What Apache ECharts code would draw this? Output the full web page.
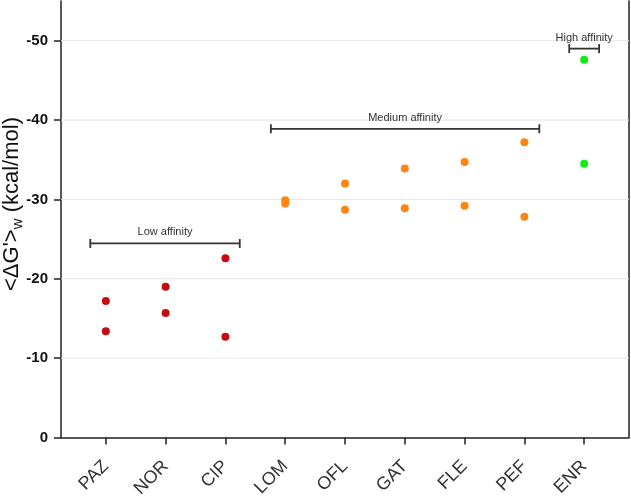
<!DOCTYPE html>
<html>
<head>
<meta charset="utf-8">
<script src="https://cdn.jsdelivr.net/npm/echarts@6/dist/echarts.min.js"></script>
<style>html,body{margin:0;padding:0;background:#fff}#c{width:631px;height:496px}</style>
</head>
<body>
<div id="c"></div>
<script>
var categories = ['PAZ','NOR','CIP','LOM','OFL','GAT','FLE','PEF','ENR'];
var lowIdx = [0,0,1,1,2,2];
var lowVals = [-17.2,-13.4,-19.0,-15.7,-22.6,-12.7];
var medIdx = [3,3,4,4,5,5,6,6,7,7];
var medVals = [-29.9,-29.5,-32.0,-28.7,-33.9,-28.9,-34.7,-29.2,-37.2,-27.8];
var highIdx = [8,8];
var highVals = [-47.6,-34.5];
var yTicks = [0,-10,-20,-30,-40,-50];
var bracketStart = [-0.26, 2.76, 7.75];
var bracketEnd = [2.24, 7.25, 8.25];
var bracketLevel = [-24.45, -38.9, -49.0];
var bracketLabel = ['Low affinity','Medium affinity','High affinity'];
var yTitle = '{a|<ΔG\'>}{b|w}{a| (kcal/mol)}';

function pairs(xs, ys){ return xs.map(function(x,i){return [x, ys[i]];}); }

var chart = echarts.init(document.getElementById('c'), null, {renderer:'canvas'});
var option = {
  animation:false,
  backgroundColor:'#fff',
  grid:{left:61, right:2, top:1, bottom:58.5, containLabel:false, outerBoundsMode:'none'},
  graphic:[{
    type:'text', x:12, y:204, rotation:Math.PI/2,
    style:{
      text:yTitle, align:'center', verticalAlign:'middle',
      rich:{
        a:{fontSize:22, fontFamily:'Liberation Sans, Arial, sans-serif', fill:'#111', height:26},
        b:{fontSize:15, fontFamily:'Liberation Sans, Arial, sans-serif', fill:'#111', verticalAlign:'bottom', padding:[11,0,0,0], height:26}
      }
    }
  }],
  xAxis:{
    type:'value', min:-0.75, max:8.75,
    axisLine:{show:true, onZero:false, lineStyle:{color:'#222', width:1.5}},
    axisTick:{show:true, customValues:[0,1,2,3,4,5,6,7,8], length:7, lineStyle:{color:'#222', width:1.5}},
    axisLabel:{customValues:[0,1,2,3,4,5,6,7,8], rotate:45, margin:26, fontSize:18,
      fontFamily:'Liberation Sans, Arial, sans-serif', color:'#333',
      formatter:function(v){ return categories[Math.round(v)] || ''; }},
    splitLine:{show:false}
  },
  yAxis:[{
    type:'value', min:-55, max:0, inverse:true,
    axisLine:{show:true, onZero:false, lineStyle:{color:'#222', width:1.5}},
    axisTick:{show:true, customValues:yTicks, length:7, lineStyle:{color:'#222', width:1.5}},
    axisLabel:{customValues:yTicks, margin:13, fontSize:15, fontWeight:'bold',
      fontFamily:'Liberation Sans, Arial, sans-serif', color:'#111'},
    splitLine:{show:false}
  },{
    type:'value', min:-55, max:0, inverse:true, position:'right',
    axisLine:{show:true, onZero:false, lineStyle:{color:'#222', width:1.5}},
    axisTick:{show:false}, axisLabel:{show:false}, splitLine:{show:false}
  }],
  series:[
    {
      type:'custom', yAxisIndex:0, silent:true, z:1,
      data: yTicks.filter(function(v){return v!==0;}).map(function(v){return [v];}),
      renderItem:function(params, api){
        var v = api.value(0);
        var p1 = api.coord([-0.75, v]);
        var p2 = api.coord([8.75, v]);
        return {type:'line', shape:{x1:p1[0], y1:p1[1], x2:p2[0], y2:p2[1]},
          style:{stroke:'#e6e6e6', lineWidth:1}};
      }
    },
    {type:'scatter', data:pairs(lowIdx, lowVals), symbolSize:8, itemStyle:{color:'#c40d12', opacity:1}, z:3},
    {type:'scatter', data:pairs(medIdx, medVals), symbolSize:8, itemStyle:{color:'#ff8410', opacity:1}, z:3},
    {type:'scatter', data:pairs(highIdx, highVals), symbolSize:8, itemStyle:{color:'#10ee10', opacity:1}, z:3},
    {
      type:'custom', silent:true, z:4,
      data: bracketStart.map(function(s,i){ return [s, bracketEnd[i], bracketLevel[i], i]; }),
      renderItem:function(params, api){
        var a = api.coord([api.value(0), api.value(2)]);
        var b = api.coord([api.value(1), api.value(2)]);
        var idx = api.value(3);
        var st = {stroke:'#333', lineWidth:1.8};
        return {type:'group', children:[
          {type:'line', shape:{x1:a[0], y1:a[1], x2:b[0], y2:b[1]}, style:st},
          {type:'line', shape:{x1:a[0], y1:a[1]-4.5, x2:a[0], y2:a[1]+4.5}, style:st},
          {type:'line', shape:{x1:b[0], y1:b[1]-4.5, x2:b[0], y2:b[1]+4.5}, style:st},
          {type:'text', x:(a[0]+b[0])/2, y:a[1]-11, style:{text:bracketLabel[idx], fill:'#333',
            fontSize:11, fontFamily:'Liberation Sans, Arial, sans-serif', align:'center', verticalAlign:'middle'}}
        ]};
      }
    }
  ]
};
chart.setOption(option);
</script>
</body>
</html>
